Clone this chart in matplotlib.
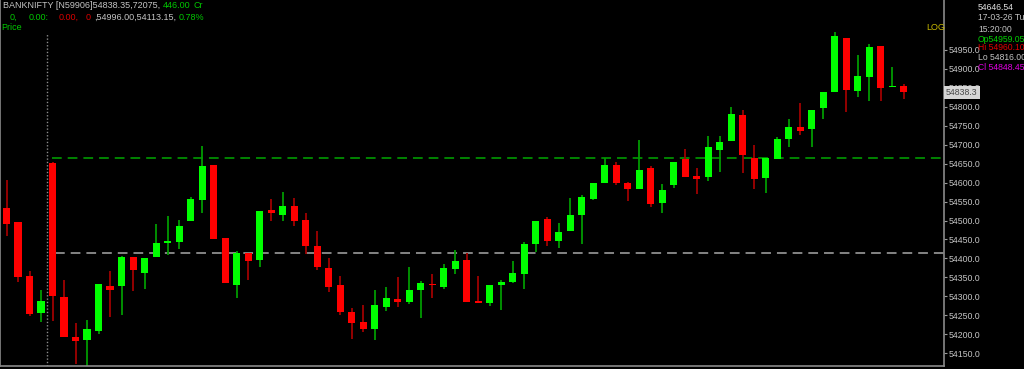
import matplotlib
matplotlib.use("Agg")
import matplotlib.pyplot as plt
import numpy as np

plt.rcParams["font.family"] = ["Liberation Sans", "DejaVu Sans"]
plt.rcParams["lines.scale_dashes"] = False

# 5-min bars (left -> right)
opens = [54532, 54497, 54354, 54255, 54651, 54299, 54194, 54184, 54209, 54328,
         54327, 54405, 54362, 54404, 54442, 54443, 54499, 54554, 54646, 54453,
         54330, 54414, 54395, 54529, 54514, 54537, 54501, 54433, 54374, 54329,
         54260, 54233, 54214, 54271, 54293, 54285, 54316, 54333, 54325, 54372,
         54396, 54288, 54283, 54331, 54337, 54360, 54438, 54504, 54447, 54472,
         54514, 54557, 54599, 54646, 54600, 54583, 54638, 54547, 54594, 54661,
         54617, 54614, 54686, 54709, 54777, 54666, 54612, 54662, 54715, 54747,
         54742, 54797, 54840, 54980, 54842, 54878, 54959.05, 54852, 54855]
highs = [54607, 54497, 54368, 54317, 54653, 54343, 54231, 54238, 54332, 54368,
         54407, 54405, 54401, 54490, 54512, 54501, 54561, 54697, 54646, 54453,
         54420, 54414, 54526, 54558, 54576, 54559, 54521, 54472, 54402, 54355,
         54269, 54278, 54317, 54326, 54351, 54378, 54341, 54360, 54386, 54422,
         54415, 54353, 54329, 54343, 54394, 54444, 54498, 54508, 54494, 54559,
         54567, 54600, 54666, 54655, 54602, 54712, 54645, 54596, 54655, 54688,
         54639, 54723, 54724, 54800, 54791, 54698, 54664, 54721, 54767, 54811,
         54792, 54838, 54996, 54980, 54936, 54965, 54960.10, 54906, 54859]
lows = [54460, 54337, 54249, 54232, 54236, 54193, 54122, 54113.15, 54201, 54245,
        54251, 54314, 54319, 54404, 54409, 54425, 54499, 54521, 54451, 54334,
        54297, 54342, 54378, 54500, 54499, 54486, 54412, 54370, 54311, 54251,
        54188, 54207, 54185, 54262, 54271, 54280, 54244, 54296, 54320, 54359,
        54285, 54283, 54275, 54263, 54335, 54320, 54418, 54433, 54427, 54472,
        54438, 54553, 54599, 54594, 54551, 54583, 54536, 54521, 54585, 54615,
        54571, 54604, 54628, 54709, 54624, 54582, 54572, 54662, 54695, 54726,
        54693, 54767, 54840, 54785, 54825, 54816, 54816.00, 54852, 54821]
closes = [54490, 54352, 54253, 54289, 54302, 54194, 54182, 54214, 54332, 54318,
          54403, 54370, 54401, 54440, 54446, 54486, 54557, 54644, 54451, 54334,
          54415, 54393, 54526, 54519, 54537, 54499, 54433, 54378, 54326, 54259,
          54230, 54214, 54278, 54295, 54285, 54316, 54334, 54329, 54374, 54393,
          54285, 54283, 54329, 54337, 54362, 54437, 54498, 54447, 54469, 54514,
          54561, 54600, 54646, 54599, 54583, 54632, 54544, 54581, 54655, 54615,
          54609, 54695, 54707, 54782, 54674, 54609, 54664, 54714, 54747, 54737,
          54792, 54838, 54987, 54845, 54881, 54957, 54848.45, 54855, 54838.35]

level_green = 54664
level_grey = 54415
last_price = 54838.35
ytick_vals = list(range(54150, 55000, 50))

# header pieces: (text, colour, x where the reference puts it)
head_line1 = [("BANKNIFTY [N59906]54838.35,72075,", "#c4c4c4", 1),
              ("446.00", "#00c800", 153), ("Cr", "#00c800", 183)]
head_line2 = [("0,", "#00c800", 10), ("0.00:", "#00c800", 29), ("0.00,", "#d80000", 59),
              ("0", "#d80000", 86), (",54996.00,54113.15,", "#c4c4c4", 90),
              ("0.78%", "#00c800", 172)]
info_lines = [("54646.54", "#e0e0e0"), ("17-03-26 Tu", "#c4c4c4"), ("15:20:00", "#c4c4c4"),
              ("Op54959.05", "#00d000"), ("Hi 54960.10", "#e00000"),
              ("Lo 54816.00", "#c4c4c4"), ("Cl 54848.45", "#e000e0")]
info_y = [7, 17, 29, 39, 48, 57, 67]

W, H = 1024, 369
FS = 6.5

fig = plt.figure(figsize=(W / 100, H / 100), dpi=100, facecolor="black")
ax = fig.add_axes([0, 3 / H, 944 / W, 366 / H])
ax.set_facecolor("black")

o = np.array(opens, float)
c = np.array(closes, float)
x = np.arange(len(o))
up = c >= o
body_col = np.where(up, "#00ff00", "#ff0000")
wick_col = np.where(up, "#009a00", "#a00000")

ax.vlines(x, lows, highs, colors=wick_col, lw=1.3, zorder=2)
body_h = np.maximum(np.abs(c - o), 2.6)
ax.bar(x, body_h, bottom=np.minimum(o, c), width=0.64, color=body_col, lw=0, zorder=3)

ax.axhline(level_green, xmin=52 / 944, color="#00a800", lw=1.1, ls=(0, (7, 4.3)), zorder=1)
ax.axhline(level_grey, xmin=55 / 944, color="#a8a8a8", lw=1.1, ls=(0, (7, 4.3)), zorder=1)
ax.axvline(3.5, ymax=1 - 33 / 366, color="#8c8c8c", lw=1, ls=(0, (1, 1.4)), zorder=1)

ax.set_xlim(-0.58, 81.5)
ax.set_ylim(54116.5, 55081.4)
ax.set_xticks([])
ax.yaxis.tick_right()
ax.set_yticks(ytick_vals)
ax.set_yticklabels([f"{v:.1f}" for v in ytick_vals])
ax.tick_params(axis="y", colors="#9a9a9a", labelcolor="#c4c4c4", labelsize=6.3,
               length=2.5, width=0.8, pad=0.8)
ax.spines["top"].set_visible(False)
for s in ["left", "right", "bottom"]:
    ax.spines[s].set_color("#8a8a8a")
    ax.spines[s].set_linewidth(1.2)

# last price box on the axis
ax.text(1.002, last_price, f"{int(last_price * 10) / 10:.1f}", transform=ax.get_yaxis_transform(),
        ha="left", va="center", fontsize=6.3, color="#4a4a4a", zorder=10, clip_on=False,
        bbox=dict(boxstyle="square,pad=0.25", fc="#d6d6d6", ec="none"))


def ftxt(px, py, s, col, size=FS):
    return fig.text(px / W, 1 - py / H, s, color=col, fontsize=size, ha="left", va="center")


renderer = fig.canvas.get_renderer()


def chain(pieces, py):
    # keep reference x, but never let a piece run into the previous one
    end = 0
    for s, col, px in pieces:
        t = ftxt(max(px, end + 3), py, s, col)
        end = t.get_window_extent(renderer).x1


chain(head_line1, 6)
chain(head_line2, 17)
ftxt(1, 28, "Price", "#00c800")

# crosshair info panel (cut at the right edge, as on the terminal)
for (s, col), py in zip(info_lines, info_y):
    ftxt(978, py, s, col, 6.2)
ftxt(926, 28, "LOG", "#c8b800")

fig.savefig("out.png", dpi=100, facecolor="black")
